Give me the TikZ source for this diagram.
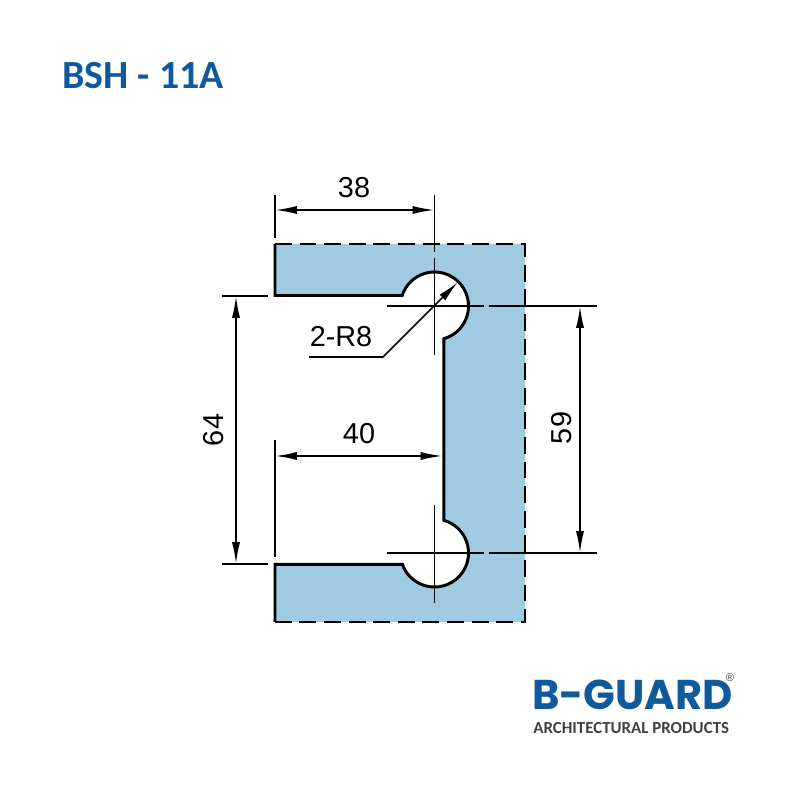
\documentclass[tikz,border=0pt]{standalone}
\usepackage{fontspec}
\setmainfont{Liberation Sans}
\newfontfamily\titlefont{Carlito}
\newfontfamily\logofont{Poppins}
\usetikzlibrary{arrows.meta,calc}
\definecolor{guardblue}{HTML}{0F5A9C}
\definecolor{profileblue}{HTML}{A0CAE1}
\definecolor{subgray}{HTML}{404040}
\tikzset{
    outline/.style={line width=2.1pt,black},
    thin line/.style={line width=1.25pt,black},
    dimension/.style={thin line,{Latex[length=15.5pt,width=5.7pt]}-{Latex[length=15.5pt,width=5.7pt]}},
    dimtext/.style={font=\fontsize{20.5}{24}\selectfont,inner sep=0pt},
}
\begin{document}
\begin{tikzpicture}[x=0.025cm,y=0.025cm]
    \useasboundingbox (0,0) rectangle (800,800);
    \coordinate (holeup) at (434.5,494);
    \coordinate (holedown) at (434.5,247);
    \coordinate (upleft) at ($(holeup)+(162:34)$);
    \coordinate (upright) at ($(holeup)+(-74:34)$);
    \coordinate (downleft) at ($(holedown)+(199.5:34)$);
    \coordinate (downright) at ($(holedown)+(74:34)$);
    % profile
    \fill[profileblue] (275,556) -- (525,556) -- (525,178) -- (275,178) -- (275,0 |- downleft) -- (downleft)
        arc[start angle=199.5,end angle=434,radius=34] -- (upright)
        arc[start angle=-74,end angle=162,radius=34] -- (275,0 |- upleft) -- cycle;
    \draw[outline,dash pattern=on 12pt off 5.5pt] (275,556) -- (525,556) -- (525,178) -- (275,178);
    \draw[outline] (275,178) -- (275,0 |- downleft) -- (downleft)
        arc[start angle=199.5,end angle=434,radius=34] -- (upright)
        arc[start angle=-74,end angle=162,radius=34] -- (275,0 |- upleft) -- (275,556);
    % centre lines
    \draw[thin line] (434.5,548) -- (434.5,605);
    \draw[thin line] (434.5,542) -- (434.5,445);
    \draw[thin line] (434.5,295) -- (434.5,197);
    \foreach \c in {holeup,holedown} {
        \draw[thin line] (\c) ++(-48,0) -- ++(97,0) ++(5,0) -- (597,0 |- \c);
    }
    % extension lines
    \draw[thin line] (275,605) -- (275,562);
    \draw[thin line] (275,360) -- (275,243);
    \draw[thin line] (222,504) -- (268,504);
    \draw[thin line] (222,236) -- (268,236);
    % dimensions
    \draw[dimension] (275,590) -- (434.5,590);
    \draw[dimension] (275,344) -- (442.5,344);
    \draw[dimension] (236,504) -- (236,236);
    \draw[dimension] (580,494) -- (580,247);
    \node[dimtext] (dimA) at (354,612) {38};
    \node[dimtext] (dimB) at (359,366) {40};
    \node[dimtext,rotate=90] (dimC) at (214,370) {64};
    \node[dimtext,rotate=90] (dimD) at (562,372) {59};
    % radius leader
    \node[dimtext] (radius) at (341,463) {2-R8};
    \coordinate (leaderstart) at (309,443);
    \coordinate (leaderbend) at (383,443);
    \coordinate (leaderend) at (458,518);
    \draw[thin line,-{Latex[length=15.5pt,width=5.7pt]}] (leaderstart) -- (leaderbend) -- (leaderend);
    % title and logo
    \node[anchor=base west,inner sep=0pt,text=guardblue,font=\titlefont\bfseries\fontsize{28.4}{32}\selectfont] (title) at (62,711) {BSH - 11A};
    \node[anchor=base west,inner sep=0pt,text depth=0pt,text=guardblue,font=\logofont\bfseries\fontsize{29.6}{34}\selectfont] (logo) at (532,90) {B-GUARD};
    \node[anchor=base west,inner sep=0pt,text=subgray,font=\titlefont\bfseries\fontsize{12}{14}\selectfont] (sub) at (533,66) {ARCHITECTURAL PRODUCTS};
    \node[inner sep=0pt,text=subgray,font=\fontsize{8}{9}\selectfont] (reg) at (730,122) {®};
\end{tikzpicture}
\end{document}
